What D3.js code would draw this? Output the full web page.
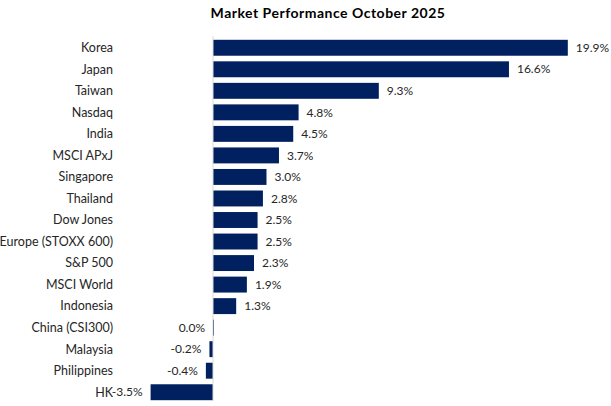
<!DOCTYPE html>
<html lang="en">
  <head>
    <meta charset="utf-8">
    <title>Market Performance</title>
    <script src="https://d3js.org/d3.v7.min.js"></script>
    <style>
      body { margin: 0; background: #fff; }
      text { font-family: 'Lato', 'Noto Sans', sans-serif; }
    </style>
  </head>
  <body>
    <div id='chart'></div>
    <script type='text/javascript'>
      let markets = ['Korea', 'Japan', 'Taiwan', 'Nasdaq', 'India', 'MSCI APxJ', 'Singapore',
                     'Thailand', 'Dow Jones', 'Europe (STOXX 600)', 'S&P 500', 'MSCI World',
                     'Indonesia', 'China (CSI300)', 'Malaysia', 'Philippines', 'HK'];
      let returns = [19.9, 16.6, 9.3, 4.8, 4.5, 3.7, 3.0, 2.8, 2.5, 2.5, 2.3, 1.9, 1.3, 0.0, -0.2, -0.4, -3.5];

      let width = 611, height = 406;
      let svg = d3.select('#chart').append('svg')
        .attr('width', width)
        .attr('height', height);

      // zero sits at x=213, 19.9% reaches ~568
      let x = d3.scaleLinear().domain([-3.5, 19.9]).range([150.6, 567.8]);
      let y = d3.scaleBand().domain(markets).range([37, 403]).paddingInner(0.26).paddingOuter(0.13);

      svg.append('text')
        .attr('x', 328)
        .attr('y', 18)
        .attr('text-anchor', 'middle')
        .attr('font-size', 14)
        .attr('font-weight', 'bold')
        .attr('letter-spacing', 0.5)
        .attr('fill', '#000')
        .text('Market Performance October 2025');

      svg.selectAll('rect.bar')
        .data(returns)
        .enter()
        .append('rect')
        .attr('class', 'bar')
        .attr('x', d => Math.min(x(0), x(d)))
        .attr('y', (d, i) => y(markets[i]))
        .attr('width', d => Math.max(Math.abs(x(d) - x(0)), 1))
        .attr('height', y.bandwidth())
        .attr('fill', '#002060');

      // vertical axis line
      svg.append('line')
        .attr('x1', x(0)).attr('x2', x(0))
        .attr('y1', 36).attr('y2', 401)
        .attr('stroke', '#d9d9d9')
        .attr('stroke-width', 1);

      svg.selectAll('text.cat')
        .data(markets)
        .enter()
        .append('text')
        .attr('class', 'cat')
        .attr('x', 113)
        .attr('y', d => y(d) + y.bandwidth() / 2)
        .attr('dy', '0.35em')
        .attr('text-anchor', 'end')
        .attr('font-size', 12.5)
        .attr('fill', '#262626')
        .text(d => d);

      svg.selectAll('text.val')
        .data(returns)
        .enter()
        .append('text')
        .attr('class', 'val')
        .attr('x', d => d > 0 ? x(d) + 8 : Math.min(x(0), x(d)) - 8)
        .attr('y', (d, i) => y(markets[i]) + y.bandwidth() / 2)
        .attr('dy', '0.35em')
        .attr('text-anchor', d => d > 0 ? 'start' : 'end')
        .attr('font-size', 12)
        .attr('fill', '#262626')
        .text(d => d.toFixed(1) + '%');
    </script>
  </body>
</html>
